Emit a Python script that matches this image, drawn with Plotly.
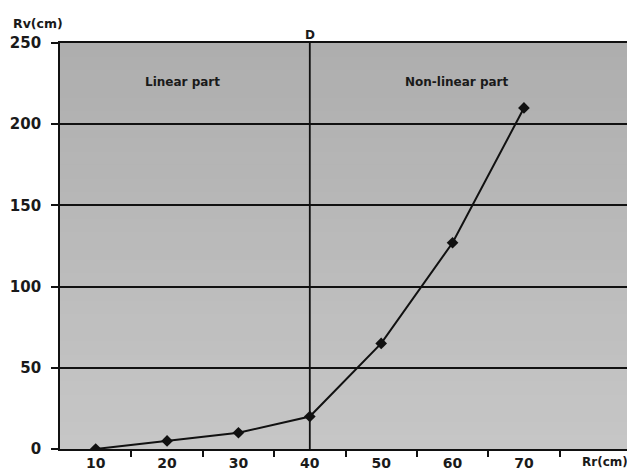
import plotly.graph_objects as go

rr_cm = [10, 20, 30, 40, 50, 60, 70]
rv_cm = [0, 5, 10, 20, 65, 127, 210]
x_ticks = [10, 20, 30, 40, 50, 60, 70]
x_minor_ticks = [15, 25, 35, 45, 55, 65, 75]
y_ticks = [0, 50, 100, 150, 200, 250]
d_x = 40

FONT = "DejaVu Sans, Liberation Sans, Arial, sans-serif"

fig = go.Figure()

# background: subtle vertical gradient (domain referenced, overlapping bands)
n_bands = 30
for i in range(n_bands):
    t = i / (n_bands - 1)
    g = int(round(198 - t * 24))
    fig.add_shape(type="rect", xref="x domain", yref="y domain",
                  x0=0, x1=1, y0=i / n_bands, y1=min(1.0, (i + 1.6) / n_bands),
                  fillcolor=f"rgb({g},{g},{g})", line_width=0, layer="below")

fig.add_trace(go.Scatter(x=[d_x, d_x], y=[0, 250], mode="lines",
                         line=dict(color="#111", width=1.8),
                         hoverinfo="skip", showlegend=False))

fig.add_trace(go.Scatter(x=rr_cm, y=rv_cm, mode="lines+markers",
                         line=dict(color="#111", width=2),
                         marker=dict(symbol="diamond", size=9, color="#111"),
                         showlegend=False))

fig.update_layout(
    width=627, height=464,
    margin=dict(l=52, r=4, t=35, b=23),
    paper_bgcolor="white",
    plot_bgcolor="rgba(0,0,0,0)",
    font=dict(family=FONT, color="#1a1a1a"),
    xaxis=dict(range=[5, 85], tickvals=x_ticks, ticktext=[str(v) for v in x_ticks],
               ticks="", showgrid=False, zeroline=False, ticklabelstandoff=0,
               automargin=False,
               showline=True, linecolor="#111", linewidth=1.8, mirror=True,
               tickfont=dict(size=14, weight="bold", color="#1a1a1a"),
               minor=dict(tickvals=x_minor_ticks, ticks="outside",
                          ticklen=6, tickcolor="#111", tickwidth=1.5, showgrid=False)),
    yaxis=dict(range=[0, 250], tickvals=y_ticks, ticks="outside", ticklen=7,
               tickwidth=1.5, ticklabelstandoff=7, automargin=False,
               tickcolor="#111", showgrid=True, gridcolor="#111", gridwidth=1.8,
               zeroline=False, showline=True, linecolor="#111", linewidth=1.8,
               mirror=True, tickfont=dict(size=15, weight="bold", color="#1a1a1a")),
    annotations=[
        dict(text="Rv(cm)", xref="paper", yref="paper", x=-0.086, y=1.047,
             xanchor="left", yanchor="middle", showarrow=False,
             font=dict(size=12.5, weight="bold")),
        dict(text="Rr(cm)", xref="paper", yref="paper", x=0.998, y=-0.032,
             xanchor="right", yanchor="middle", showarrow=False,
             font=dict(size=12, weight="bold")),
        dict(text="D", xref="x", yref="paper", x=d_x, y=1.02,
             xanchor="center", yanchor="middle", showarrow=False,
             font=dict(size=12, weight="bold")),
        dict(text="Linear part", xref="paper", yref="paper", x=0.215, y=0.904,
             xanchor="center", yanchor="middle", showarrow=False,
             font=dict(size=12, weight="bold")),
        dict(text="Non-linear part", xref="paper", yref="paper", x=0.695, y=0.904,
             xanchor="center", yanchor="middle", showarrow=False,
             font=dict(size=12, weight="bold")),
    ],
)

fig.write_html("out.html")
